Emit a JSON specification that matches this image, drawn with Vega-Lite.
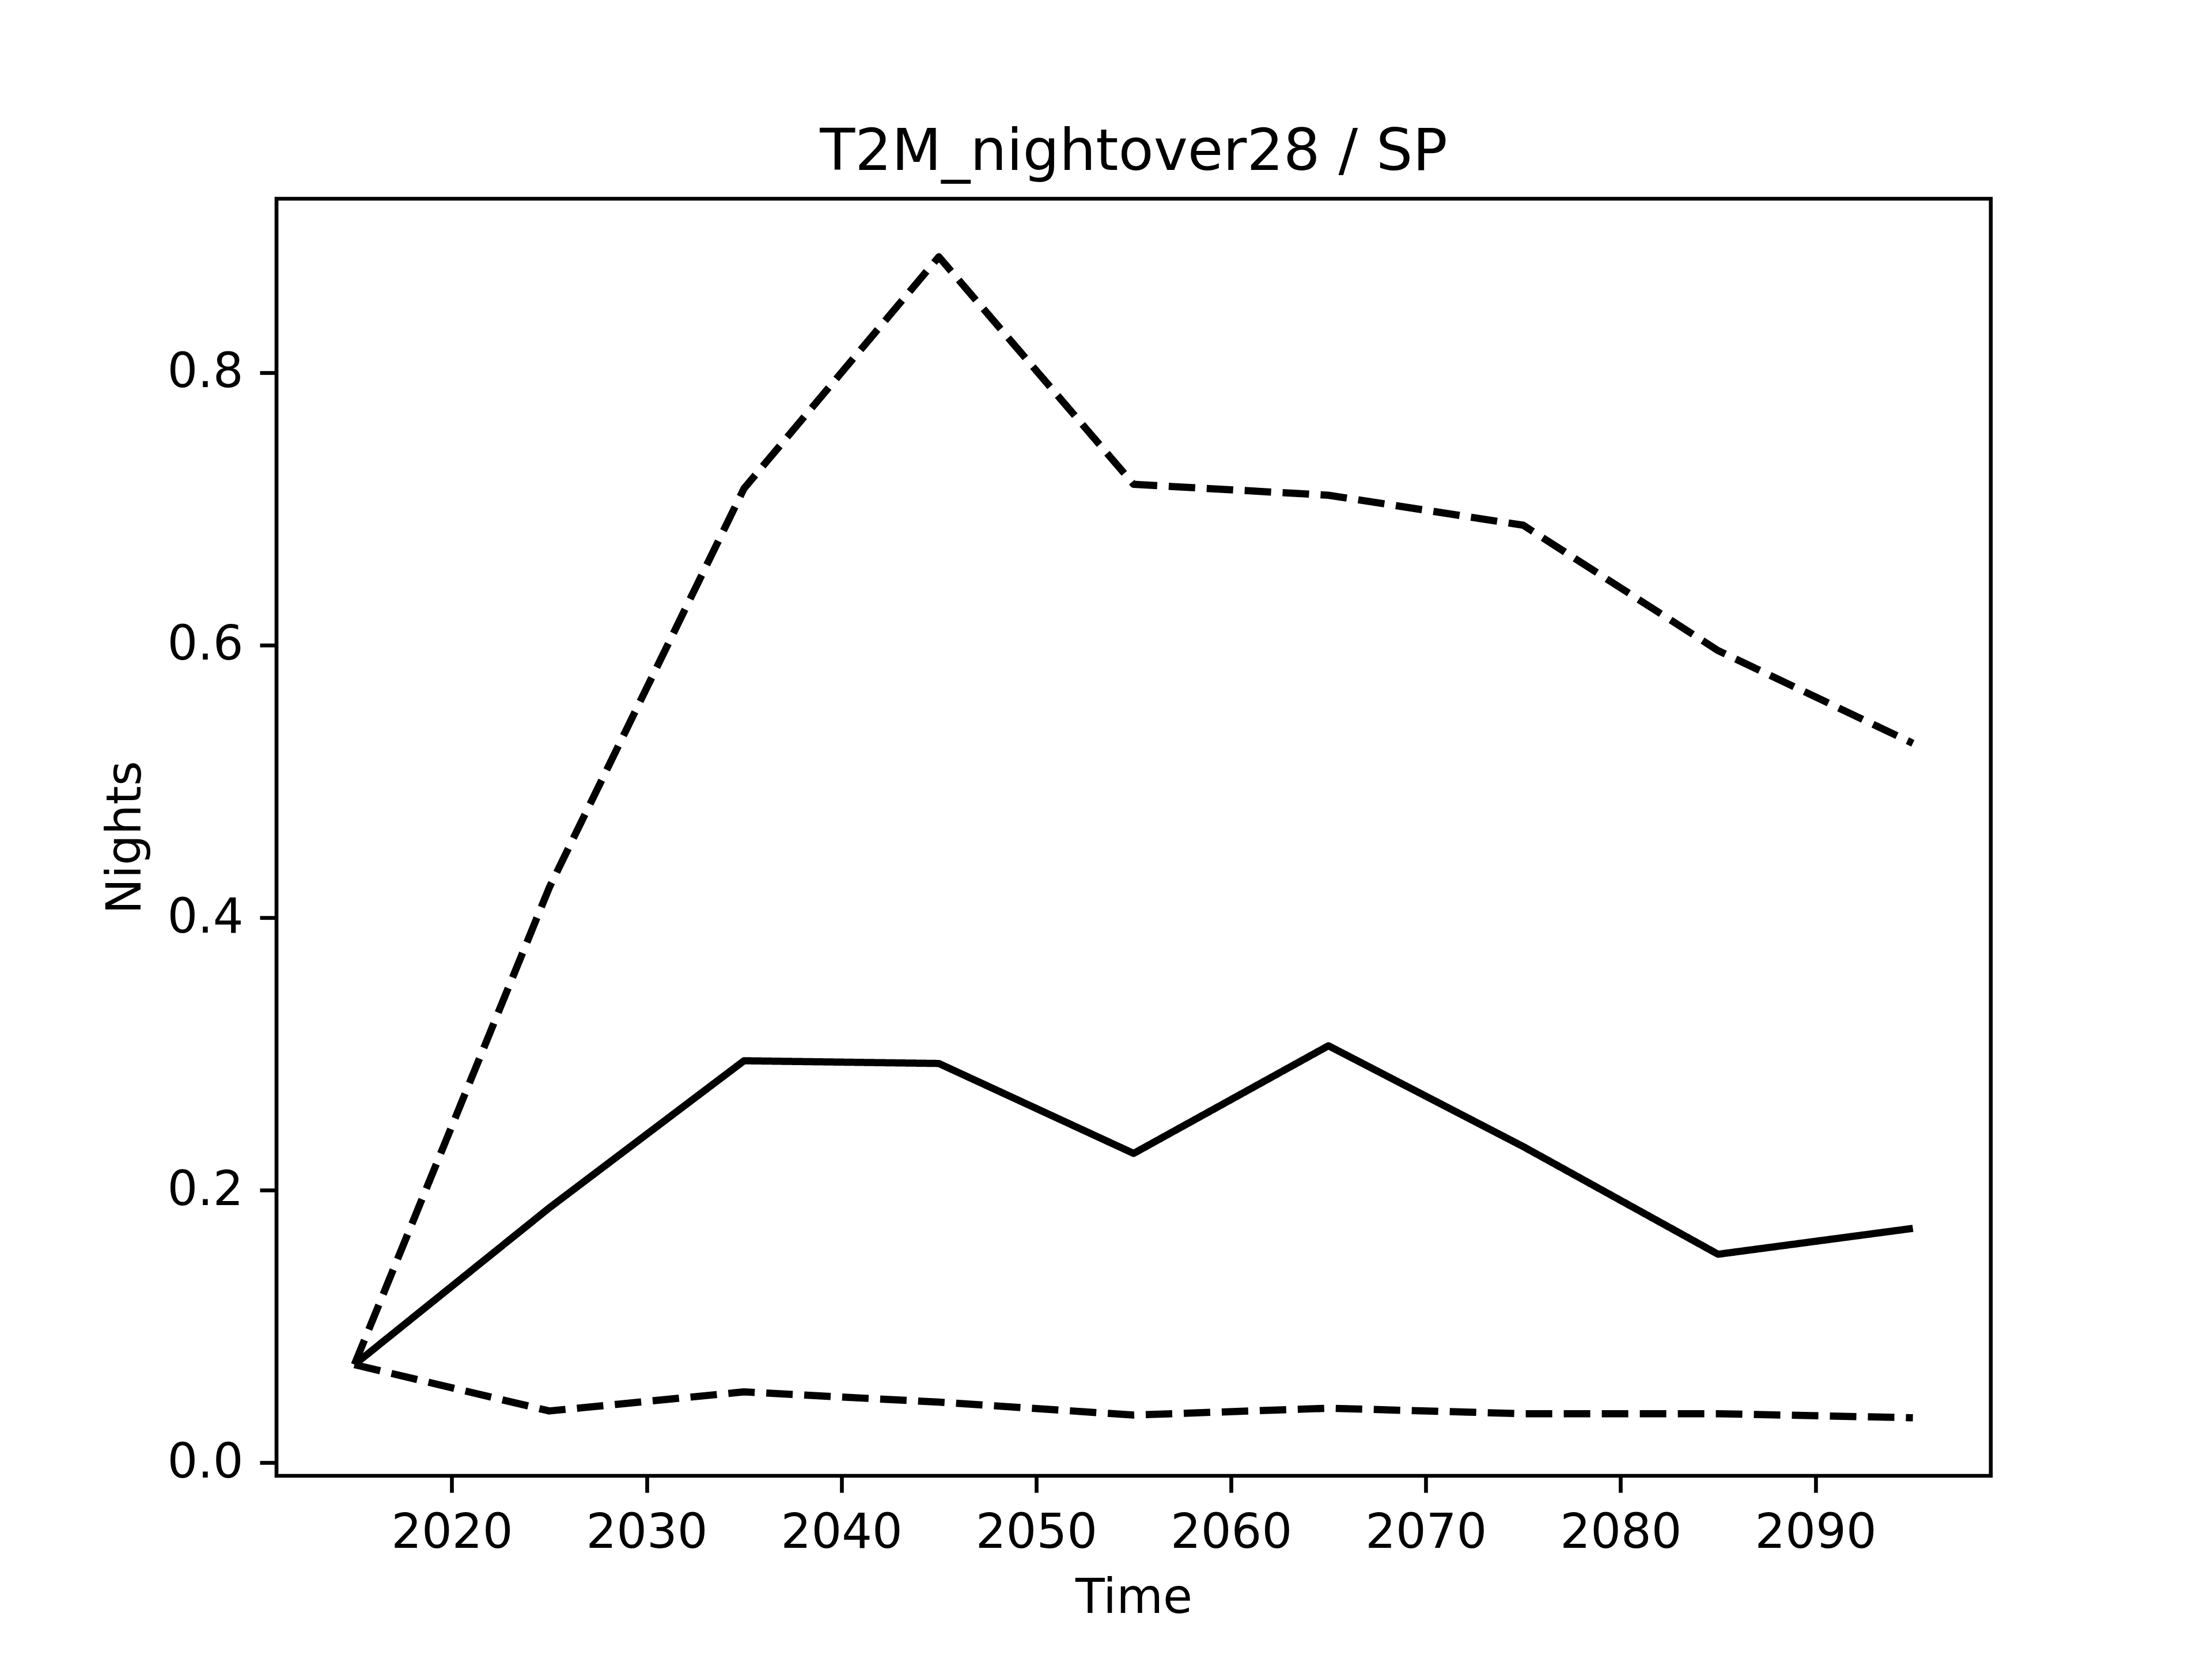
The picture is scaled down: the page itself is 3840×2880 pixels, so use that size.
{
  "$schema": "https://vega.github.io/schema/vega-lite/v6.json",
  "autosize": {"type": "none"},
  "width": 2976,
  "height": 2217,
  "padding": {"left": 480, "top": 345, "right": 384, "bottom": 318},
  "background": "white",
  "title": {
    "text": "T2M_nightover28 / SP",
    "font": "DejaVu Sans",
    "fontSize": 100,
    "fontWeight": "normal",
    "color": "black",
    "anchor": "middle",
    "baseline": "alphabetic",
    "offset": -50
  },
  "config": {
    "view": {"stroke": "black", "strokeWidth": 6.67},
    "axis": {
      "grid": false,
      "domain": false,
      "ticks": true,
      "tickColor": "black",
      "tickWidth": 6.67,
      "tickSize": 29,
      "labelPadding": 29,
      "labelLimit": 0,
      "labelFont": "DejaVu Sans",
      "labelFontSize": 83,
      "labelColor": "black",
      "titleFont": "DejaVu Sans",
      "titleFontSize": 83,
      "titleFontWeight": "normal",
      "titleColor": "black"
    }
  },
  "data": {
    "values": [
      {"year": 2015, "value": 0.072, "series": "mean"},
      {"year": 2025, "value": 0.187, "series": "mean"},
      {"year": 2035, "value": 0.295, "series": "mean"},
      {"year": 2045, "value": 0.293, "series": "mean"},
      {"year": 2055, "value": 0.227, "series": "mean"},
      {"year": 2065, "value": 0.306, "series": "mean"},
      {"year": 2075, "value": 0.232, "series": "mean"},
      {"year": 2085, "value": 0.153, "series": "mean"},
      {"year": 2095, "value": 0.172, "series": "mean"},
      {"year": 2015, "value": 0.072, "series": "upper"},
      {"year": 2025, "value": 0.422, "series": "upper"},
      {"year": 2035, "value": 0.715, "series": "upper"},
      {"year": 2045, "value": 0.885, "series": "upper"},
      {"year": 2055, "value": 0.718, "series": "upper"},
      {"year": 2065, "value": 0.710, "series": "upper"},
      {"year": 2075, "value": 0.688, "series": "upper"},
      {"year": 2085, "value": 0.596, "series": "upper"},
      {"year": 2095, "value": 0.528, "series": "upper"},
      {"year": 2015, "value": 0.072, "series": "lower"},
      {"year": 2025, "value": 0.038, "series": "lower"},
      {"year": 2035, "value": 0.052, "series": "lower"},
      {"year": 2045, "value": 0.0445, "series": "lower"},
      {"year": 2055, "value": 0.035, "series": "lower"},
      {"year": 2065, "value": 0.040, "series": "lower"},
      {"year": 2075, "value": 0.036, "series": "lower"},
      {"year": 2085, "value": 0.036, "series": "lower"},
      {"year": 2095, "value": 0.033, "series": "lower"}
    ]
  },
  "mark": {"type": "line", "color": "black", "strokeWidth": 12.5, "strokeCap": "butt", "strokeJoin": "round"},
  "encoding": {
    "x": {
      "field": "year",
      "type": "quantitative",
      "title": "Time",
      "scale": {"domain": [2011, 2099], "nice": false, "zero": false},
      "axis": {"values": [2020, 2030, 2040, 2050, 2060, 2070, 2080, 2090], "format": "d", "titlePadding": 30}
    },
    "y": {
      "field": "value",
      "type": "quantitative",
      "title": "Nights",
      "scale": {"domain": [-0.0096, 0.9276], "nice": false, "zero": false},
      "axis": {"values": [0, 0.2, 0.4, 0.6, 0.8], "format": ".1f", "titlePadding": 30}
    },
    "detail": {"field": "series", "type": "nominal"},
    "strokeDash": {
      "field": "series",
      "type": "nominal",
      "scale": {"domain": ["mean", "upper", "lower"], "range": [[1, 0], [46, 20], [46, 20]]},
      "legend": null
    }
  }
}
